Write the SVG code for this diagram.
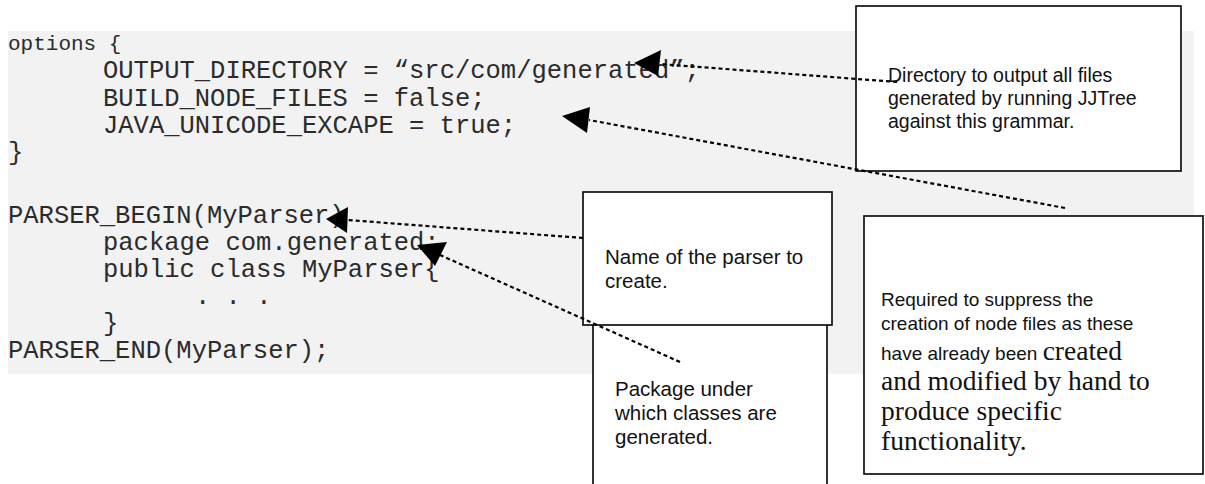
<svg xmlns="http://www.w3.org/2000/svg" width="1205" height="484" viewBox="0 0 1205 484">
  <style>
    .code { font-family: "Liberation Mono", "Courier New", monospace; font-size: 25.5px; fill: #2b2b2b; white-space: pre; }
    .note { font-family: "Liberation Sans", Tahoma, Arial, sans-serif; fill: #111; }
    .serif { font-family: "Liberation Serif", "Times New Roman", serif; fill: #111; }
    .box { fill: #ffffff; stroke: #000; stroke-width: 1.6; }
    .dots { fill: none; stroke: #000; stroke-width: 2.2; stroke-dasharray: 4 3; }
    .head { fill: #000; }
  </style>

  <!-- shaded grammar listing -->
  <rect x="8" y="31" width="1186" height="343" fill="#f2f2f2"/>

  <g id="grammar">
    <text class="code" x="8" y="50" style="font-size:21px">options {</text>
    <text class="code" x="103" y="78">OUTPUT_DIRECTORY = “src/com/generated”;</text>
    <text class="code" x="103" y="105.5">BUILD_NODE_FILES = false;</text>
    <text class="code" x="103" y="133">JAVA_UNICODE_EXCAPE = true;</text>
    <text class="code" x="8" y="160">}</text>
    <text class="code" x="8" y="223">PARSER_BEGIN(MyParser)</text>
    <text class="code" x="103" y="250">package com.generated;</text>
    <text class="code" x="103" y="277">public class MyParser{</text>
    <text class="code" x="195" y="304">. . .</text>
    <text class="code" x="103" y="331">}</text>
    <text class="code" x="8" y="358">PARSER_END(MyParser);</text>
  </g>

  <!-- callout: package -->
  <g id="note-package">
    <rect class="box" x="593" y="300" width="234" height="200"/>
    <text class="note" style="font-size:20.5px">
      <tspan x="615" y="396">Package under</tspan>
      <tspan x="615" y="420">which classes are</tspan>
      <tspan x="615" y="444">generated.</tspan>
    </text>
  </g>

  <!-- callout: parser name -->
  <g id="note-parser-name">
    <rect class="box" x="583" y="192" width="249" height="133"/>
    <text class="note" style="font-size:20.5px">
      <tspan x="605" y="264">Name of the parser to</tspan>
      <tspan x="605" y="288">create.</tspan>
    </text>
  </g>

  <!-- callout: output directory -->
  <g id="note-output-dir">
    <rect class="box" x="856" y="6" width="325" height="165"/>
    <text class="note" style="font-size:19.5px">
      <tspan x="888" y="82">Directory to output all files</tspan>
      <tspan x="888" y="105">generated by running JJTree</tspan>
      <tspan x="888" y="128">against this grammar.</tspan>
    </text>
  </g>

  <!-- callout: node files -->
  <g id="note-node-files">
    <rect class="box" x="864" y="216" width="339" height="258"/>
    <text class="note" style="font-size:19px">
      <tspan x="881" y="306">Required to suppress the</tspan>
      <tspan x="881" y="330">creation of node files as these</tspan>
      <tspan x="881" y="360">have already been <tspan class="serif" style="font-size:27.5px">created</tspan></tspan>
    </text>
    <text class="serif" style="font-size:27.5px">
      <tspan x="881" y="390">and modified by hand to</tspan>
      <tspan x="881" y="420">produce specific</tspan>
      <tspan x="881" y="450">functionality.</tspan>
    </text>
  </g>

  <!-- dotted leader lines with solid heads -->
  <g id="connectors">
    <line class="dots" x1="897" y1="82" x2="660" y2="64"/>
    <polygon class="head" points="634,63 661,50 658,76"/>

    <line class="dots" x1="1065" y1="208" x2="589" y2="120"/>
    <polygon class="head" points="562,116 590,107 587,133"/>

    <line class="dots" x1="583" y1="238" x2="348" y2="220"/>
    <polygon class="head" points="326,219 348,207 347,233"/>

    <line class="dots" x1="680" y1="362" x2="440" y2="255"/>
    <polygon class="head" points="417,245 447,242 435,266"/>
  </g>
</svg>
